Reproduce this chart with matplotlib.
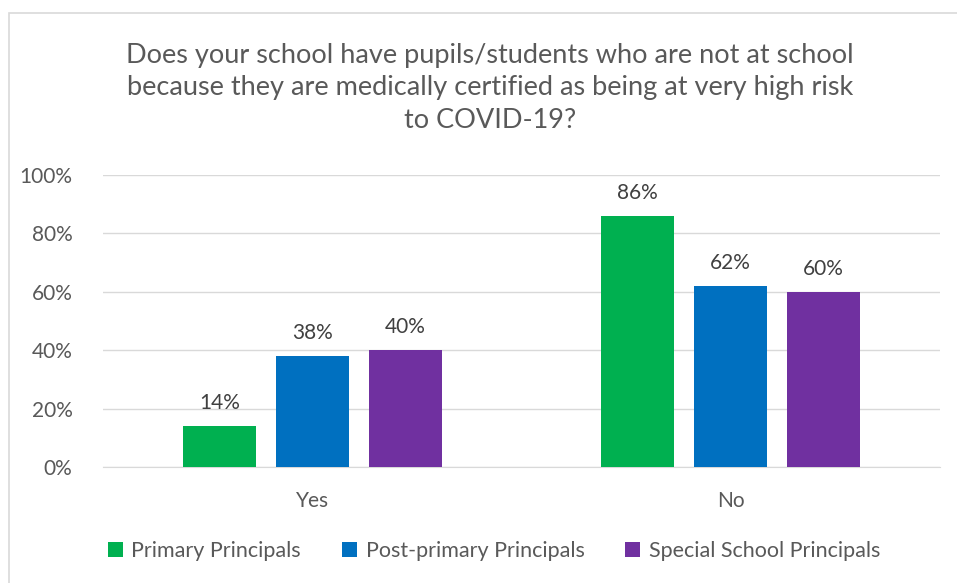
import matplotlib.pyplot as plt
import numpy as np
from matplotlib.patches import Rectangle

# data
categories = ['Yes', 'No']
series_names = ['Primary Principals', 'Post-primary Principals', 'Special School Principals']
primary = [14, 86]
post_primary = [38, 62]
special = [40, 60]
colors = ['#00B050', '#0070C0', '#7030A0']

plt.rcParams['font.family'] = ['Lato', 'DejaVu Sans']
text_col = '#595959'

fig = plt.figure(figsize=(9.57, 5.83), dpi=100)
ax = fig.add_axes([103/957, 1 - 467/583, 837/957, (467-175)/583])

x = np.arange(len(categories))
width = 0.174
step = 0.222
for i, (vals, name) in enumerate(zip([primary, post_primary, special], series_names)):
    pos = x + (i - 1) * step
    bars = ax.bar(pos, vals, width, color=colors[i], label=name, zorder=3)
    for b, v in zip(bars, vals):
        ax.text(b.get_x() + b.get_width()/2, v + 4.5, f'{v}%', ha='center', va='bottom',
                fontsize=15, color='#404040')

ax.set_xlim(-0.5, 1.5)
ax.set_ylim(0, 100)
ax.set_yticks(range(0, 101, 20))
ax.set_yticklabels([f'{t}%' for t in range(0, 101, 20)])
ax.set_xticks(x)
ax.set_xticklabels(categories)
ax.tick_params(axis='both', length=0, labelsize=15, labelcolor=text_col)
ax.tick_params(axis='y', pad=22)
ax.tick_params(axis='x', pad=17)
ax.grid(axis='y', color='#D9D9D9', linewidth=1, zorder=0)
for s in ['top', 'right', 'left']:
    ax.spines[s].set_visible(False)
ax.spines['bottom'].set_color('#D9D9D9')

fig.text(490/957, 1 - 88/583,
         'Does your school have pupils/students who are not at school\n'
         'because they are medically certified as being at very high risk\n'
         'to COVID-19?', ha='center', va='center', fontsize=19.5, color=text_col,
         linespacing=1.38)

leg = fig.legend(loc='center', bbox_to_anchor=(494/957, 1 - 551/583), ncol=3,
                 frameon=False, fontsize=15.5, handlelength=0.7, handleheight=0.7,
                 handletextpad=0.4, columnspacing=1.9)
for t in leg.get_texts():
    t.set_color(text_col)

fig.patches.append(Rectangle((9/957, -0.1), 1.1, 1 - 13/583 + 0.1, transform=fig.transFigure,
                             fill=False, edgecolor='#D9D9D9', linewidth=1.2))

fig.savefig('out.png', dpi=100)
